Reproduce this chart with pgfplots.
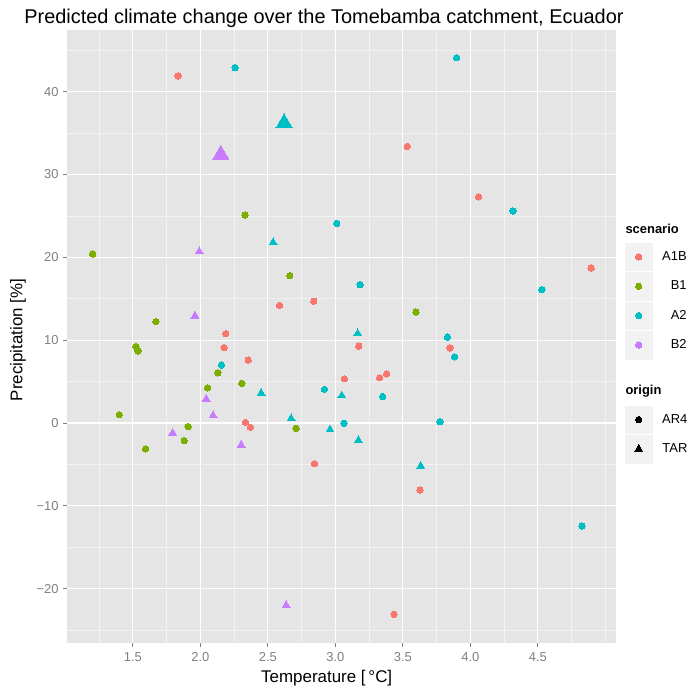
\documentclass[border=0pt]{standalone}
\usepackage{pgfplots}
\pgfplotsset{compat=1.18}
\usepackage{pgfplotstable}
\usepackage{fontspec}
\setmainfont{Liberation Sans}
\definecolor{cA1B}{HTML}{F8766D}
\definecolor{cB1}{HTML}{7CAE00}
\definecolor{cA2}{HTML}{00BFC4}
\definecolor{cB2}{HTML}{C77CFF}
\definecolor{panelbg}{HTML}{E5E5E5}
\definecolor{minorgrid}{HTML}{F2F2F2}
\definecolor{keybg}{HTML}{F2F2F2}
\definecolor{ticktext}{HTML}{7F7F7F}

\pgfplotstableread{
x y
1.835 41.9
3.533 33.4
4.061 27.3
4.895 18.7
2.586 14.2
2.840 14.7
2.188 10.8
2.176 9.1
3.173 9.28
3.849 9.07
2.354 7.6
3.067 5.34
3.328 5.46
3.380 5.94
2.334 0.08
2.371 -0.52
2.845 -4.9
3.627 -8.1
3.434 -23.1
}\tabAoneBar

\pgfplotstableread{
x y
1.202 20.4
2.331 25.1
2.662 17.8
1.670 12.25
1.522 9.24
1.537 8.7
3.597 13.4
2.129 6.06
2.053 4.25
2.307 4.78
1.399 1.0
1.909 -0.44
2.709 -0.64
1.880 -2.13
1.594 -3.13
}\tabBoneAR

\pgfplotstableread{
x y
2.257 42.9
3.898 44.1
4.315 25.6
3.010 24.1
4.530 16.1
3.183 16.7
3.830 10.36
3.883 7.99
2.156 7.0
2.919 4.06
3.350 3.2
3.064 -0.04
3.775 0.16
4.826 -12.45
}\tabAtwoAR

\pgfplotstableread{
x y
2.539 21.8
3.165 10.8
2.450 3.6
3.047 3.3
2.672 0.55
2.960 -0.8
3.170 -2.1
3.632 -5.2
}\tabAtwoTAR

\pgfplotstableread{
x y
1.991 20.7
1.959 12.95
2.043 2.9
2.094 0.9
1.794 -1.2
2.302 -2.65
2.635 -22.0
}\tabBtwoTAR

\begin{document}
\begin{tikzpicture}
\path[use as bounding box] (0bp,0bp) rectangle (691bp,686bp);
\begin{axis}[
  at={(67bp,43bp)}, anchor=south west,
  scale only axis, width=549bp, height=613bp,
  xmin=1.0115, xmax=5.079, ymin=-26.56, ymax=47.45,
  axis background/.style={fill=panelbg},
  axis line style={draw=none},
  xtick={1.5,2,2.5,3,3.5,4,4.5},
  xticklabels={1.5,2.0,2.5,3.0,3.5,4.0,4.5},
  ytick={-20,-10,0,10,20,30,40},
  yticklabels={−20,−10,0,10,20,30,40},
  minor xtick={1.25,1.75,2.25,2.75,3.25,3.75,4.25,4.75,5},
  minor ytick={-25,-15,-5,5,15,25,35,45},
  grid=both,
  major grid style={white, line width=1.1bp},
  minor grid style={minorgrid, line width=0.55bp},
  tick align=outside, tick pos=left,
  major tick length=4bp, minor tick length=0pt,
  tick style={ticktext, line width=1bp},
  ticklabel style={font=\fontsize{13}{15}\selectfont, text=ticktext},
  xticklabel style={yshift=-2bp},
  yticklabel style={xshift=-1bp},
  legend image code/.code={
    \fill[keybg] (-13.3bp,-13.75bp) rectangle (13.3bp,13.75bp);
    \draw[#1] plot coordinates {(0bp,0bp)};
  },
  legend cell align=right,
  legend style={at={(1.01639,0.653)}, anchor=north west, draw=none, fill=none,
    inner sep=0pt, row sep=1.5bp, column sep=10bp,
    nodes={inner sep=0pt, font=\fontsize{13}{15}\selectfont}},
]
\addplot[forget plot, only marks, mark=*, color=cA1B, mark size=3.2bp, mark options={line width=0pt}] table {\tabAoneBar};
\addplot[forget plot, only marks, mark=*, color=cB1, mark size=3.2bp, mark options={line width=0pt}] table {\tabBoneAR};
\addplot[forget plot, only marks, mark=*, color=cA2, mark size=3.2bp, mark options={line width=0pt}] table {\tabAtwoAR};
\addplot[forget plot, only marks, mark=triangle*, color=cA2, mark size=4.6bp, mark options={line width=0pt}] table {\tabAtwoTAR};
\addplot[forget plot, only marks, mark=triangle*, color=cB2, mark size=4.6bp, mark options={line width=0pt}] table {\tabBtwoTAR};
\addplot[forget plot, only marks, mark=triangle*, color=cA2, mark size=9.4bp, mark options={line width=0pt}] coordinates {(2.62,36.2)};
\addplot[forget plot, only marks, mark=triangle*, color=cB2, mark size=9.4bp, mark options={line width=0pt}] coordinates {(2.151,32.4)};
\addlegendimage{mark=*, color=cA1B, mark size=3.2bp, mark options={line width=0pt}}
\addlegendentry{A1B}
\addlegendimage{mark=*, color=cB1, mark size=3.2bp, mark options={line width=0pt}}
\addlegendentry{B1}
\addlegendimage{mark=*, color=cA2, mark size=3.2bp, mark options={line width=0pt}}
\addlegendentry{A2}
\addlegendimage{mark=*, color=cB2, mark size=3.2bp, mark options={line width=0pt}}
\addlegendentry{B2}
\end{axis}
\begin{axis}[
  at={(67bp,43bp)}, anchor=south west,
  scale only axis, width=549bp, height=613bp,
  hide axis, xmin=0, xmax=1, ymin=0, ymax=1,
  legend image code/.code={
    \fill[keybg] (-13.3bp,-13.75bp) rectangle (13.3bp,13.75bp);
    \draw[#1] plot coordinates {(0bp,0bp)};
  },
  legend cell align=right,
  legend style={at={(1.01639,0.3874)}, anchor=north west, draw=none, fill=none,
    inner sep=0pt, row sep=1.5bp, column sep=10bp,
    nodes={inner sep=0pt, font=\fontsize{13}{15}\selectfont}},
]
\addlegendimage{mark=*, color=black, mark size=3.2bp, mark options={line width=0pt}}
\addlegendentry{AR4}
\addlegendimage{mark=triangle*, color=black, mark size=4.6bp, mark options={line width=0pt}}
\addlegendentry{TAR}
\end{axis}
\node[anchor=base, font=\fontsize{20}{24}\selectfont] at (324bp,662.7bp) {Predicted climate change over the Tomebamba catchment, Ecuador};
\node[anchor=base, font=\fontsize{17}{20}\selectfont] at (326.7bp,3.5bp) {Temperature [\,°C]};
\node[rotate=90, anchor=center, font=\fontsize{17}{20}\selectfont] at (18bp,346bp) {Precipitation [\%]};
\node[anchor=base west, font=\bfseries\fontsize{13}{15}\selectfont] at (622bp,452bp) {scenario};
\node[anchor=base west, font=\bfseries\fontsize{13}{15}\selectfont] at (622bp,291bp) {origin};
\end{tikzpicture}
\end{document}
